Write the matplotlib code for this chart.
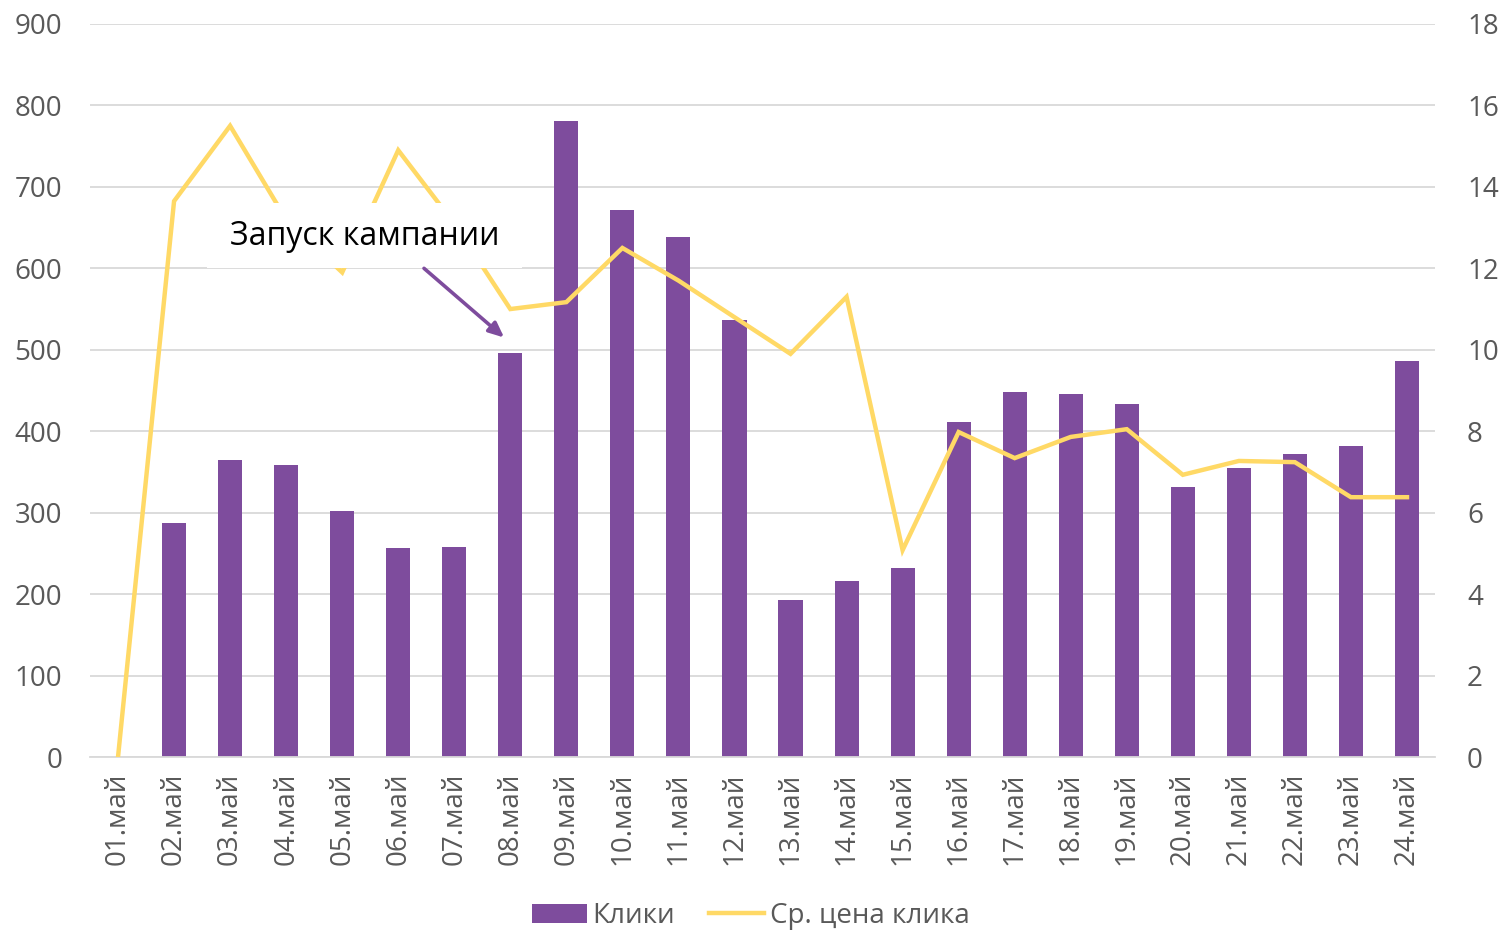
import numpy as np
import matplotlib.pyplot as plt
from matplotlib.patches import Rectangle

plt.rcParams['font.family'] = ['Open Sans', 'DejaVu Sans']

days = ['01.май', '02.май', '03.май', '04.май', '05.май', '06.май', '07.май', '08.май',
        '09.май', '10.май', '11.май', '12.май', '13.май', '14.май', '15.май', '16.май',
        '17.май', '18.май', '19.май', '20.май', '21.май', '22.май', '23.май', '24.май']
clicks = [0, 287, 365, 359, 302, 257, 258, 496, 781, 672, 639, 537, 193, 216, 232, 411,
          448, 446, 433, 332, 355, 372, 382, 486]
cpc = [0, 13.65, 15.5, 13.2, 11.9, 14.9, 13.1, 11.0, 11.17, 12.5, 11.7, 10.8, 9.9, 11.3,
       5.08, 7.98, 7.34, 7.86, 8.05, 6.93, 7.27, 7.24, 6.38, 6.38]

purple = '#7E4C9D'
yellow = '#FFD966'
gray = '#595959'
grid = '#D9D9D9'

fig = plt.figure(figsize=(15.01, 9.31), dpi=100)
ax = fig.add_axes([90 / 1501, 1 - 757 / 931, 1345 / 1501, 733 / 931])
ax2 = ax.twinx()

x = np.arange(len(days))
ax.bar(x, clicks, width=0.43, color=purple, label='Клики', zorder=2)
ax2.plot(x, cpc, color=yellow, lw=3.2, label='Ср. цена клика', solid_joinstyle='miter')

ax.set_xlim(-0.5, len(days) - 0.5)
ax.set_ylim(0, 900)
ax.set_yticks(range(0, 901, 100))
ax2.set_ylim(0, 18)
ax2.set_yticks(range(0, 19, 2))
ax.yaxis.grid(True, color=grid, lw=1.3, zorder=0)
ax.set_axisbelow(True)

for a in (ax, ax2):
    for s in a.spines.values():
        s.set_visible(False)
    a.tick_params(length=0, labelsize=20, colors=gray)
ax.spines['bottom'].set_visible(True)
ax.spines['bottom'].set_color(grid)
ax.spines['bottom'].set_linewidth(1.3)

ax.set_xticks(x)
ax.set_xticklabels(days, rotation=90)
ax.tick_params(axis='x', pad=11)
ax.tick_params(axis='y', pad=20)
ax2.tick_params(axis='y', pad=23)

# белая подложка подписи
ax2.add_patch(Rectangle((1.59, 12.01), 5.62, 1.59, fc='white', ec='none', zorder=4))
ax2.text(4.4, 12.77, 'Запуск кампании', fontsize=23, color='black', ha='center', va='center',
         zorder=5)
ax2.annotate('', xy=(6.89, 10.3), xytext=(5.46, 12.0),
             arrowprops=dict(arrowstyle='-|>,head_width=0.4,head_length=0.9', color=purple,
                             lw=2.6, shrinkA=0, shrinkB=0), zorder=5)

h1, l1 = ax.get_legend_handles_labels()
h2, l2 = ax2.get_legend_handles_labels()
fig.legend(h1 + h2, l1 + l2, loc='center', bbox_to_anchor=(0.5, 1 - 916 / 931), ncol=2,
           frameon=False, fontsize=20, labelcolor=gray, handlelength=2.0, handletextpad=0.2,
           columnspacing=1.2)

fig.savefig('out.png', dpi=100)
